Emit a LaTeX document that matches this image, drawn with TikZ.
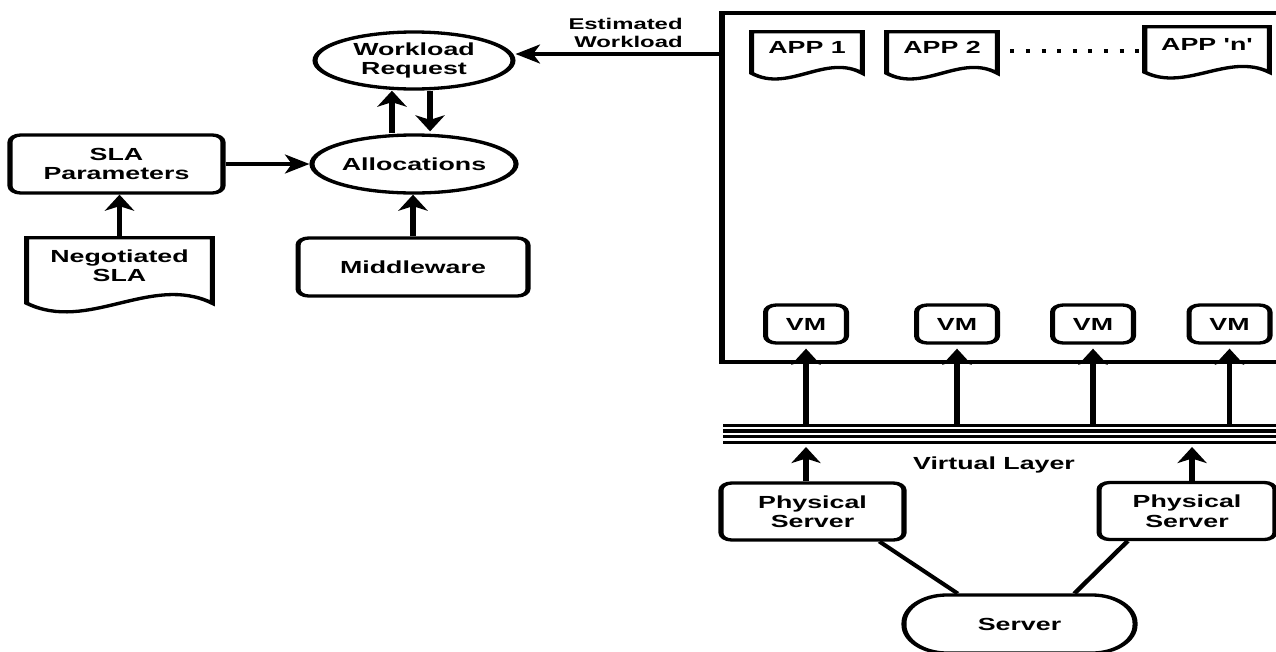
\documentclass[tikz,border=0pt]{standalone}
\usepackage{fontspec}
\setmainfont{Liberation Sans}
\usetikzlibrary{arrows.meta,calc,shapes.geometric}
\tikzset{
  shapeline/.style={line width=3.3pt, line join=miter},
  rbox/.style={draw, line width=3.3pt, rounded corners=7pt, align=center, inner sep=0pt, minimum height=58pt},
  ell/.style={draw, ellipse, line width=3.3pt, align=center, inner sep=0pt, minimum width=129.4pt, minimum height=57pt},
  docn/.style={inner sep=0pt, align=center},
  arr/.style={line width=3.4pt, -{Stealth[length=16pt,width=19pt,inset=4.5pt]}},
  plain/.style={line width=3.4pt},
  layerline/.style={line width=3.2pt},
  dotline/.style={line width=4.5pt, dash pattern=on 2.6pt off 7.6pt},
}
\newcommand{\docshape}[3]{%
  \draw[shapeline] (#1.north west) -- (#1.north east) -- ($(#1.south east)+(0,#2)$)
   .. controls ($(#1.south east)!0.33!(#1.south west)+(0,#2-#3)$) and ($(#1.south west)!0.33!(#1.south east)+(0,#2+#3)$) .. ($(#1.south west)+(0,#2)$) -- cycle;}
\begin{document}
\begin{tikzpicture}[font=\fontsize{17.5}{19.5}\selectfont\bfseries]
\useasboundingbox (0pt,0pt) rectangle (1276pt,-651pt);
\clip (0pt,0pt) rectangle (1276pt,-651pt);
\begin{scope}[transform canvas={xscale=1.53}, x=0.65359pt, y=-1pt]
% left part
\node[ell] (wr) at (414,60.5) {Workload\\Request};
\node[ell, minimum height=58pt] (al) at (414,164) {Allocations};
\node[rbox, minimum width=139.2pt] (sla) at (116.5,164) {SLA\\Parameters};
\node[docn, minimum width=120.9pt, minimum height=55pt] (neg) at (119.5,265.5) {Negotiated\\SLA};
\docshape{neg}{10}{30}
\node[rbox, minimum width=150.3pt] (mw) at (413,267) {Middleware};
\node[anchor=east, align=right, font=\fontsize{15.6}{18}\selectfont\bfseries] (est) at (688,33) {Estimated\\Workload};
% cloud box
\node[draw, line width=3.3pt, anchor=north west, minimum width=380pt, minimum height=349pt, inner sep=0pt, outer sep=0pt] (big) at (722,13) {};
\node[docn, minimum width=71.9pt, minimum height=31pt] (app1) at (807,47.5) {APP 1};
\node[docn, minimum width=71.9pt, minimum height=31pt] (app2) at (942,47.5) {APP 2};
\node[docn, minimum width=81pt, minimum height=35pt] (appn) at (1207,44.5) {APP \textquotesingle n\textquotesingle};
\docshape{app1}{10}{20}
\docshape{app2}{10}{20}
\docshape{appn}{10}{20}
\draw[dotline] ([xshift=8.5pt,yshift=-3.5pt]app2.east) -- ([yshift=-3.5pt]app2.east -| appn.west);
\node[rbox, minimum width=52.9pt, minimum height=38pt] (vm1) at (806,324) {VM};
\node[rbox, minimum width=52.9pt, minimum height=38pt] (vm2) at (957,324) {VM};
\node[rbox, minimum width=52.9pt, minimum height=38pt] (vm3) at (1093,324) {VM};
\node[rbox, minimum width=52.9pt, minimum height=38pt] (vm4) at (1229.5,324) {VM};
% virtual layer
\coordinate (vlt) at (723,425.5);
\coordinate (vlb) at (723,443);
\foreach \yy in {425.5,431,436.5,442.5} \draw[layerline] (723,\yy) -- (1320,\yy);
\node (vl) at (994,465) {Virtual Layer};
\node[rbox, minimum width=119.6pt, minimum height=57pt] (ps1) at (812.5,511.5) {Physical\\Server};
\node[rbox, minimum width=115pt, minimum height=57pt] (ps2) at (1187,511) {Physical\\Server};
\node[rbox, minimum width=151pt, minimum height=58pt, rounded corners=28pt] (srv) at (1019.5,624) {Server};
% connectors
\draw[arr] (sla) -- (al);
\draw[arr] (neg.north) -- (neg.north |- sla.south);
\draw[arr] (mw.north) -- (mw.north |- al.south);
\draw[arr] ([xshift=-14.4pt]al.north) -- ([xshift=-14.4pt]wr.south);
\draw[arr, shorten >=2pt] ([xshift=10.5pt]wr.south) -- ([xshift=10.5pt]al.north);
\draw[arr] ([yshift=6.5pt]wr.east -| big.west) -- ([yshift=6.5pt]wr.east);
\foreach \v in {vm1,vm2,vm3,vm4} \draw[arr, shorten >=4pt] (\v.south |- vlt) -- (\v.south);
\draw[arr, shorten >=4pt] (vm1.south |- ps1.north) -- (vm1.south |- vlb);
\draw[arr, shorten >=4pt] ([xshift=3.3pt]ps2.north) -- ([xshift=3.3pt]ps2.north |- vlb);
\draw[plain] ([xshift=-17.6pt]ps1.south east) -- ([xshift=36.6pt]srv.north west);
\draw[plain] ([xshift=20.3pt]ps2.south west) -- ([xshift=-41.2pt]srv.north east);
\end{scope}
\end{tikzpicture}
\end{document}
